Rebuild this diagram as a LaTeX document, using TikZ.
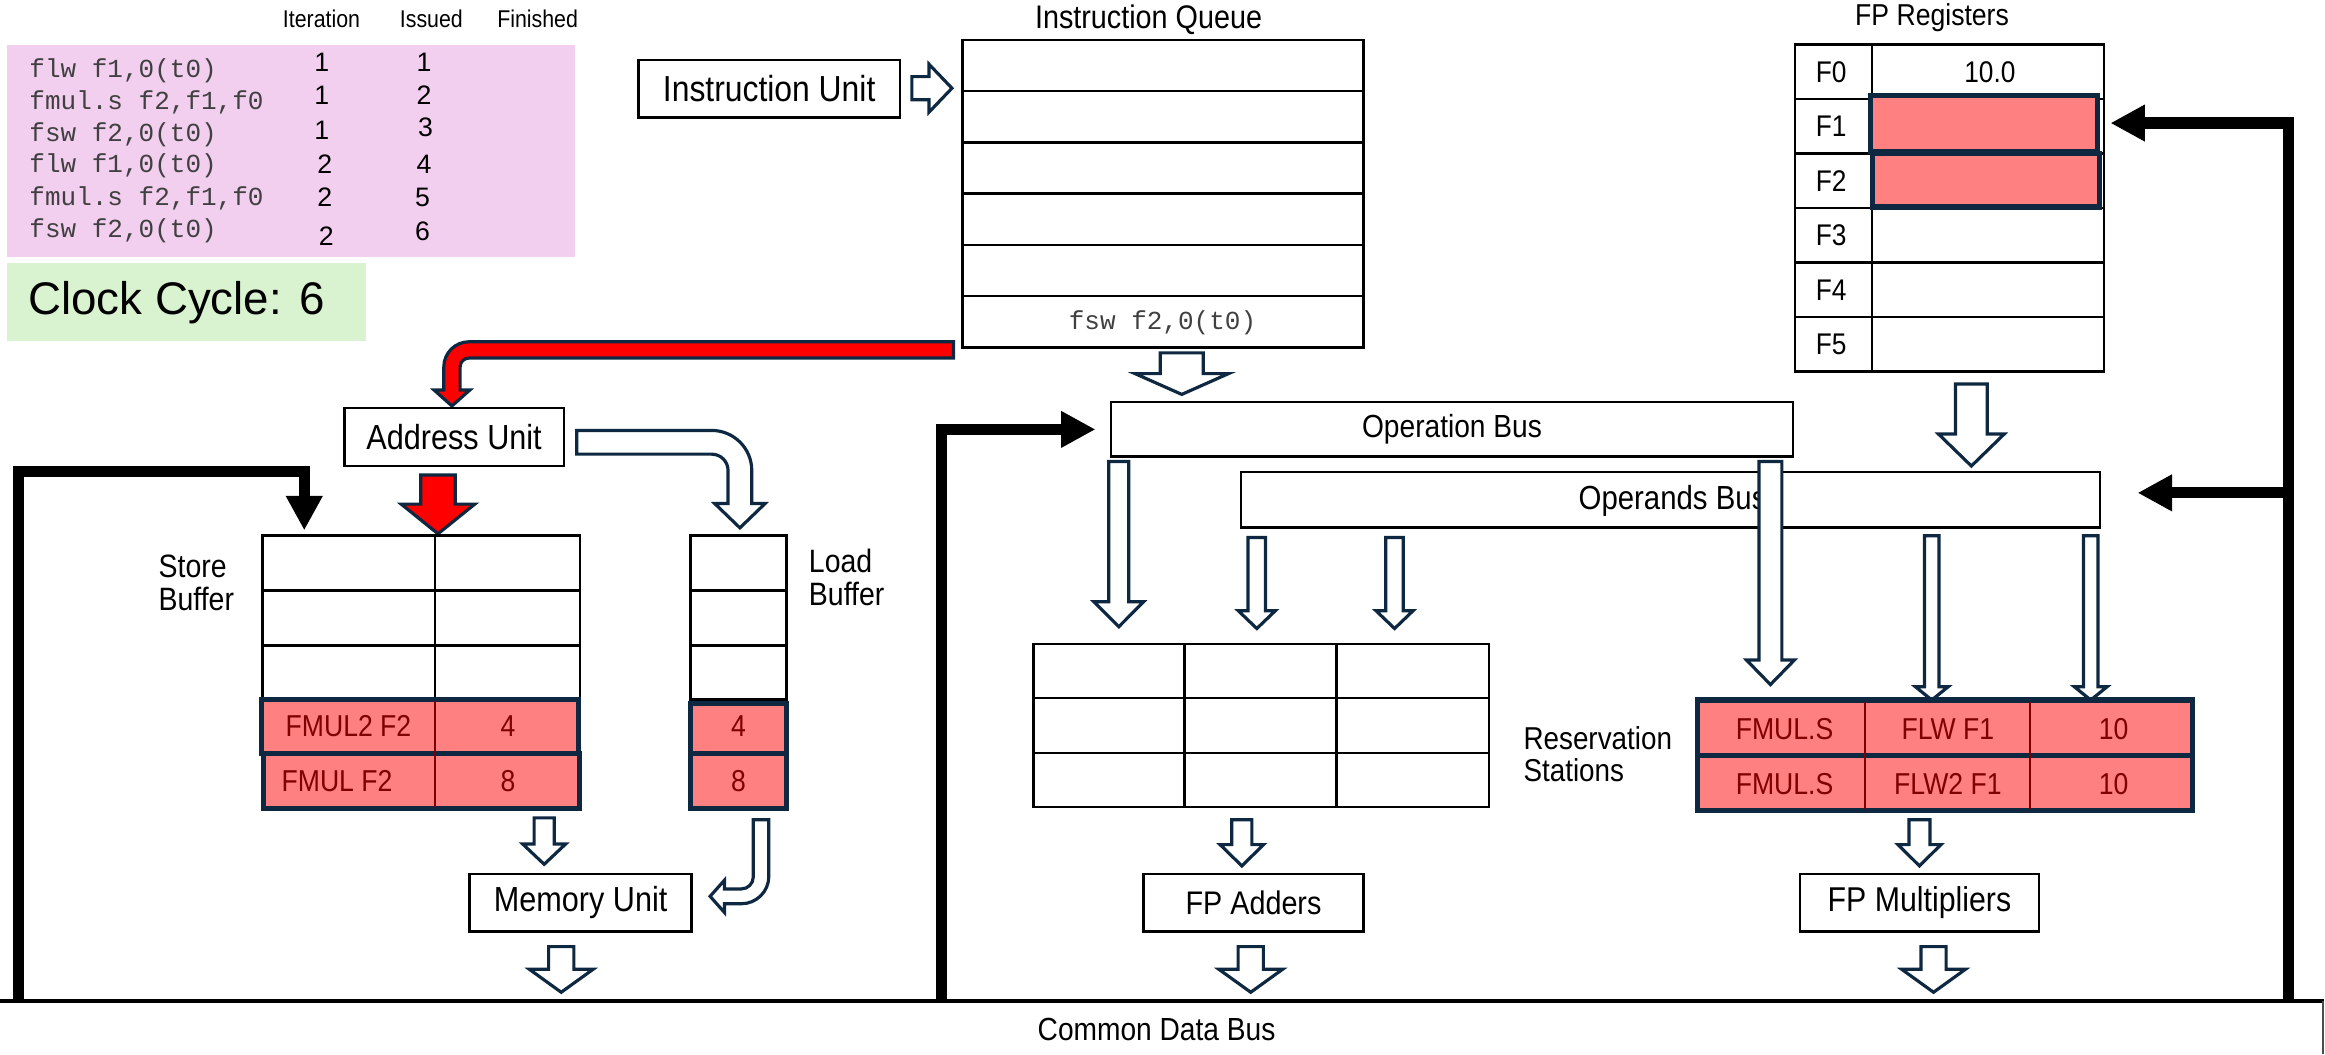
\documentclass[tikz,border=0pt]{standalone}
\usepackage{fontspec}
\setmainfont{Liberation Sans}[FakeStretch=0.88]
\newfontfamily\plainsans{Liberation Sans}
\setmonofont{Liberation Mono}
\usetikzlibrary{arrows.meta,fit}
\definecolor{navy}{HTML}{0E2841}
\definecolor{pinkbg}{HTML}{F2CEEF}
\definecolor{greenbg}{HTML}{D9F2D0}
\definecolor{cellpink}{HTML}{FF8080}
\definecolor{celldark}{HTML}{800000}
\definecolor{codegray}{HTML}{404040}
\newcommand\myfs[1]{\fontsize{#1}{#1}\selectfont}
\newcommand\blockdown[7]{%
  \draw[#1] ({#2-#6},#3) -- ({#2+#6},#3) -- ({#2+#6},#4) -- ({#2+#7},#4) -- (#2,#5) -- ({#2-#7},#4) -- ({#2-#6},#4) -- cycle;}
\begin{document}
\begin{tikzpicture}[x=0.14828mm,y=-0.14828mm,
  box/.style={draw=black,line width=0.7pt,fill=white,inner sep=0},
  lbl/.style={inner sep=0},
  grid/.style={draw=black,line width=0.7pt},
  harrow/.style={draw=navy,line width=0.9pt,fill=white,line join=miter},
  redarrow/.style={draw=navy,line width=0.9pt,fill=red,line join=miter},
  bus/.style={line width=3.2pt,line join=miter,-{Triangle[length=9.8pt,width=9.8pt]}},
  pinkrow/.style={fill=cellpink,draw=navy,line width=1.5pt},
  cellsep/.style={draw=celldark,line width=0.6pt},
  celltxt/.style={text=celldark,inner sep=0,font=\myfs{8.6}},
  code/.style={inner sep=0,anchor=west,text=codegray,font=\ttfamily\myfs{7.4}},
  num/.style={inner sep=0,font=\plainsans\myfs{7.6}},
]
\useasboundingbox (0,0) rectangle (1568,711);

% ---------- program table ----------
\node[lbl,font=\myfs{6.9}] (hIter) at (216.8,12.8) {Iteration};
\node[lbl,font=\myfs{6.9}] (hIss) at (290.9,12.8) {Issued};
\node[lbl,font=\myfs{6.9}] (hFin) at (362.6,12.8) {Finished};
\node[fill=pinkbg,inner sep=0,fit={(4.6,30.4) (388,173)}] (prog) {};
\node[code] (c1) at (19.4,47.7) {flw f1,0(t0)};
\node[code] (c2) at (19.4,69) {fmul.s f2,f1,f0};
\node[code] (c3) at (19.4,90.6) {fsw f2,0(t0)};
\node[code] (c4) at (19.4,111.7) {flw f1,0(t0)};
\node[code] (c5) at (19.4,133.7) {fmul.s f2,f1,f0};
\node[code] (c6) at (19.4,155.6) {fsw f2,0(t0)};
\node[num] (i1) at (217,42) {1};
\node[num] (i2) at (217,64) {1};
\node[num] (i3) at (217,88) {1};
\node[num] (i4) at (219,111) {2};
\node[num] (i5) at (219,133) {2};
\node[num] (i6) at (220,159) {2};
\node[num] (s1) at (286,42) {1};
\node[num] (s2) at (286,64) {2};
\node[num] (s3) at (287,86) {3};
\node[num] (s4) at (286,111) {4};
\node[num] (s5) at (285,133) {5};
\node[num] (s6) at (285,156) {6};
\node[fill=greenbg,inner sep=0,fit={(4.6,177.6) (247,229.8)}] (clk) {};
\node[lbl,anchor=west,font=\plainsans\myfs{13}] (clktxt) at (18.6,204) {Clock Cycle: 6};

% ---------- instruction unit / queue ----------
\node[box,fit={(430.5,40.5) (607,79.4)}] (iu) {};
\node[lbl,font=\myfs{10.3}] (iut) at (iu.center) {Instruction Unit};
\draw[harrow] (615,51.7) -- (626.5,51.7) -- (626.5,43.3) -- (642,59.5) -- (626.5,75.7) -- (626.5,67.3) -- (615,67.3) -- cycle;
\node[lbl,font=\myfs{9.3}] (iqt) at (774.6,13.5) {Instruction Queue};
\node[box,fit={(649,27) (919.7,234.5)}] (iq) {};
\foreach \yy in {61.4,96.2,130.4,165.2,199.6} \draw[grid] (649,\yy) -- (919.7,\yy);
\node[lbl,text=codegray,font=\ttfamily\myfs{7.4}] (iq6) at (784,217.5) {fsw f2,0(t0)};
\blockdown{harrow}{797}{238}{252}{266}{14.5}{31.5}

% red arrow queue -> address unit
\draw[redarrow] (643,230.5) -- (316.3,230.5) arc[start angle=270,end angle=180,radius=17]
  -- (299.3,263) -- (292.7,263) -- (304.8,273.8) -- (316.9,263) -- (310.3,263) -- (310.3,247.5)
  arc[start angle=180,end angle=270,radius=6] -- (643,241.5) -- cycle;

% ---------- address unit, buffers, memory ----------
\node[box,fit={(232.3,275) (380.2,314.3)}] (au) {};
\node[lbl,font=\myfs{9.9}] (aut) at (au.center) {Address Unit};
\draw[harrow] (389,290.3) -- (480,290.3) arc[start angle=270,end angle=360,radius=27]
  -- (507,339.6) -- (516,339.6) -- (499,356) -- (482,339.6) -- (491,339.6) -- (491,317.3)
  arc[start angle=0,end angle=-90,radius=11] -- (389,306.3) -- cycle;
\blockdown{redarrow}{295.4}{320.3}{340}{360}{11.6}{24.8}

\node[lbl,anchor=west,align=left,font=\myfs{9.2}] (sbl) at (106.5,393.2) {Store\\[0.2pt]Buffer};
\node[box,fit={(176.9,361.3) (391,545.5)}] (sb) {};
\foreach \yy in {398.2,435.2,471.6,508.2} \draw[grid] (176.9,\yy) -- (391,\yy);
\draw[grid] (293.4,361.3) -- (293.4,471.6);
\draw[pinkrow] (176.5,471.6) rectangle (390,508.2);
\draw[pinkrow] (177.5,508.2) rectangle (391,545.5);
\draw[cellsep] (293.4,473) -- (293.4,544);
\node[celltxt] (sb41) at (235,490) {FMUL2 F2};
\node[celltxt] (sb42) at (342.6,490) {4};
\node[celltxt] (sb51) at (227.3,527) {FMUL F2};
\node[celltxt] (sb52) at (342.6,527) {8};

\node[lbl,anchor=west,align=left,font=\myfs{9.2}] (lbl) at (545.1,389.5) {Load\\[0.2pt]Buffer};
\node[box,fit={(465.7,361.3) (530.4,545.5)}] (lb) {};
\foreach \yy in {398.2,435.2,471.6} \draw[grid] (465.7,\yy) -- (530.4,\yy);
\draw[pinkrow] (465.7,474.5) rectangle (530.4,508.2);
\draw[pinkrow] (465.7,508.2) rectangle (530.4,545.5);
\node[celltxt] (lb4) at (498,490) {4};
\node[celltxt] (lb5) at (498,527) {8};

\blockdown{harrow}{367}{551.6}{569.2}{582.9}{6.8}{14.5}
\draw[harrow] (508,552.8) -- (518.5,552.8) -- (518.5,591) arc[start angle=0,end angle=90,radius=18.5]
  -- (488.6,609.5) -- (488.6,615.4) -- (478.9,604.5) -- (488.6,593.6) -- (488.6,599.5) -- (500,599.5)
  arc[start angle=90,end angle=0,radius=8] -- cycle;
\node[box,fit={(316.7,589.4) (466.5,628.1)}] (mu) {};
\node[lbl,font=\myfs{9.9}] (mut) at (mu.center) {Memory Unit};
\blockdown{harrow}{378.5}{638.4}{653.7}{669.2}{8.5}{21.5}

% ---------- FP registers ----------
\node[lbl,font=\myfs{8.6}] (fprt) at (1303,12) {FP Registers};
\node[box,fit={(1210.5,30.1) (1419,250.5)}] (fpr) {};
\foreach \yy in {66.7,103.6,140.4,177,213.9} \draw[grid] (1210.5,\yy) -- (1419,\yy);
\draw[grid] (1262.6,30.1) -- (1262.6,250.5);
\draw[pinkrow] (1261.5,64.5) rectangle (1414.5,102.4);
\draw[pinkrow] (1263,103.6) rectangle (1416,139.6);
\node[lbl,font=\myfs{8.5}] (f0) at (1235,48.4) {F0};
\node[lbl,font=\myfs{8.5}] (f1) at (1235,85.2) {F1};
\node[lbl,font=\myfs{8.5}] (f2) at (1235,122) {F2};
\node[lbl,font=\myfs{8.5}] (f3) at (1235,158.7) {F3};
\node[lbl,font=\myfs{8.5}] (f4) at (1235,195.5) {F4};
\node[lbl,font=\myfs{8.5}] (f5) at (1235,232.2) {F5};
\node[lbl,font=\myfs{8.5}] (f0v) at (1342,48.4) {10.0};
\blockdown{harrow}{1329.5}{259}{292.7}{314.3}{10.7}{22.2}

% ---------- buses ----------
\node[box,fit={(749.2,271) (1209.3,307.8)}] (opb) {};
\node[lbl,font=\myfs{9.1}] (opbt) at (opb.center) {Operation Bus};
\node[box,fit={(837,318.5) (1416.4,355.7)}] (opnd) {};
\node[lbl,font=\myfs{9.5}] (opndt) at (1128,337.5) {Operands Bus};

\blockdown{harrow}{754.5}{311.2}{405.8}{422.7}{6.7}{16.8}
\blockdown{harrow}{847.6}{362.5}{411.9}{423.9}{5.9}{12.5}
\blockdown{harrow}{940.5}{362.5}{411.9}{423.9}{5.9}{12.5}
\blockdown{harrow}{1194}{311.2}{445.1}{461.7}{7.7}{16.2}
\blockdown{harrow}{1302.8}{361.3}{463.2}{472.1}{4.9}{11}
\blockdown{harrow}{1410}{361.3}{463.2}{472.1}{4.9}{11}

% ---------- reservation stations ----------
\node[box,fit={(697,434.3) (1004.3,544.3)}] (ars) {};
\foreach \yy in {470.9,507.7} \draw[grid] (697,\yy) -- (1004.3,\yy);
\foreach \xx in {798.8,901.3} \draw[grid] (\xx,434.3) -- (\xx,544.3);
\node[lbl,anchor=west,align=left,font=\myfs{9.0}] (rsl) at (1027,508.8) {Reservation\\[0.2pt]Stations};
\draw[pinkrow] (1144.6,472.1) rectangle (1478.8,509.4);
\draw[pinkrow] (1144.6,509.4) rectangle (1478.8,546.7);
\node[inner sep=0,fit={(1144.6,472.1) (1478.8,546.7)}] (mrs) {};
\foreach \xx in {1258,1369} \draw[cellsep] (\xx,473.5) -- (\xx,545.3);
\node[celltxt] (m11) at (1203.5,491.4) {FMUL.S};
\node[celltxt] (m12) at (1313.7,491.4) {FLW F1};
\node[celltxt] (m13) at (1425.4,491.4) {10};
\node[celltxt] (m21) at (1203.5,528.7) {FMUL.S};
\node[celltxt] (m22) at (1313.7,528.7) {FLW2 F1};
\node[celltxt] (m23) at (1425.4,528.7) {10};

\blockdown{harrow}{837.5}{552.8}{569.6}{584}{6.75}{14.7}
\blockdown{harrow}{1294.5}{552.8}{569.6}{584}{7.1}{14.5}
\node[box,fit={(771.2,589.4) (919.6,628.1)}] (fpa) {};
\node[lbl,font=\myfs{9.3}] (fpat) at (fpa.center) {FP Adders};
\node[box,fit={(1213.9,589.4) (1375.1,628.1)}] (fpm) {};
\node[lbl,font=\myfs{9.8}] (fpmt) at (fpm.center) {FP Multipliers};
\blockdown{harrow}{843.5}{638.4}{653.7}{669.2}{8.5}{21.5}
\blockdown{harrow}{1304}{638.4}{653.7}{669.2}{8.5}{21.5}

% ---------- common data bus ----------
\node[inner sep=0,fit={(0,675.1) (1566.5,711)}] (cdb) {};
\node[lbl,font=\myfs{9.1}] (cdbt) at (780,694.6) {Common Data Bus};

% black feedback connectors
\coordinate (l0) at (12.4,675.1);
\coordinate (l1) at (12.4,318);
\coordinate (l2) at (205.2,318);
\coordinate (sbin) at (205.2,357.7);
\draw[bus] (l0) -- (l1) -- (l2) -- (sbin);
\coordinate (m0) at (635,675.1);
\coordinate (m1) at (635,289.6);
\coordinate (opbin) at (738.8,289.6);
\draw[bus] (m0) -- (m1) -- (opbin);
\coordinate (r0) at (1543.4,675.1);
\coordinate (r1) at (1543.4,83);
\coordinate (f1in) at (1423.3,83);
\coordinate (rb) at (1543.4,332.4);
\coordinate (opndin) at (1441.6,332.4);
\draw[bus] (r0) -- (r1) -- (f1in);
\draw[bus] (rb) -- (opndin);

\draw[line width=1pt] (0,675.1) -- (1567,675.1);
\draw[line width=0.7pt,black!70] (1566.5,675.1) -- (1566.5,711);
\end{tikzpicture}
\end{document}
